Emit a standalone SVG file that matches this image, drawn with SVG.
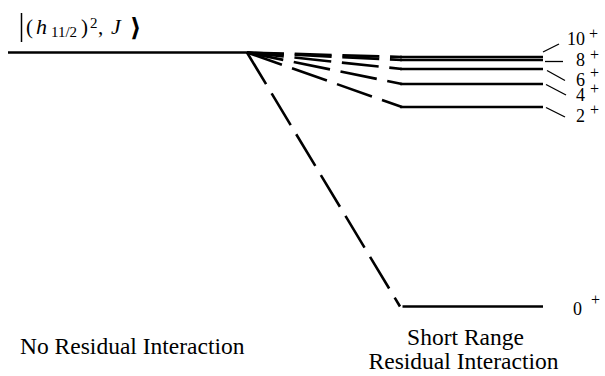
<svg xmlns="http://www.w3.org/2000/svg" width="605" height="376" viewBox="0 0 605 376" font-family="'Liberation Serif', 'Times New Roman', Times, 'DejaVu Serif', serif">
<style>
text{font-family:'Liberation Serif','Times New Roman',Times,'DejaVu Serif',serif;fill:#000}
.lvl{stroke:#000;stroke-width:2.6;fill:none}
.dash{stroke:#000;stroke-width:2.6;fill:none;stroke-dasharray:37 10.7}
.tick{stroke:#000;stroke-width:1.3;fill:none}
.lab{font-size:18px}
.sup{font-size:16px}
.cap{font-size:23.5px}
</style>
<rect width="605" height="376" fill="#fff"/>
<g id="ket">
<line x1="21.5" y1="13" x2="21.5" y2="42" stroke="#000" stroke-width="1.5"/>
<text font-size="21" y="33.5"><tspan x="26">(</tspan><tspan x="36" font-style="italic" font-size="22">h</tspan><tspan x="51" y="37" font-size="15">11/2</tspan><tspan x="81" y="33.5">)</tspan><tspan x="90" y="28" font-size="15">2</tspan><tspan x="98" y="33.5">,</tspan><tspan x="111" font-style="italic" font-size="22">J</tspan><tspan x="130" y="35.5" font-size="25" font-weight="bold">⟩</tspan></text>
</g>
<g id="unperturbed">
<line class="lvl" x1="8" y1="52.5" x2="247" y2="52.5"/>
</g>
<g id="connectors">
<line class="dash" x1="247" y1="52.5" x2="402" y2="57"/>
<line class="dash" x1="247" y1="52.5" x2="402" y2="60"/>
<line class="dash" x1="247" y1="52.5" x2="402" y2="69"/>
<line class="dash" x1="247" y1="52.5" x2="402" y2="84"/>
<line class="dash" x1="247" y1="52.5" x2="402" y2="107"/>
<line class="dash" x1="247" y1="52.5" x2="400" y2="306.5"/>
</g>
<g id="level-10">
<line class="lvl" x1="400" y1="57" x2="543" y2="57"/>
<line class="tick" x1="543" y1="52" x2="559" y2="44"/>
<text class="lab" x="585" y="45" text-anchor="end">10</text>
<text class="sup" x="589" y="39">+</text>
</g>
<g id="level-8">
<line class="lvl" x1="400" y1="60" x2="543" y2="60"/>
<line class="tick" x1="545" y1="61.5" x2="563" y2="61.5"/>
<text class="lab" x="585" y="65.5" text-anchor="end">8</text>
<text class="sup" x="590" y="60">+</text>
</g>
<g id="level-6">
<line class="lvl" x1="400" y1="69" x2="543" y2="69"/>
<line class="tick" x1="547" y1="70.5" x2="565" y2="80.5"/>
<text class="lab" x="585" y="86" text-anchor="end">6</text>
<text class="sup" x="590" y="78">+</text>
</g>
<g id="level-4">
<line class="lvl" x1="400" y1="84" x2="543" y2="84"/>
<line class="tick" x1="546" y1="84.5" x2="566" y2="95"/>
<text class="lab" x="585" y="101" text-anchor="end">4</text>
<text class="sup" x="590" y="94">+</text>
</g>
<g id="level-2">
<line class="lvl" x1="400" y1="107" x2="543" y2="107"/>
<line class="tick" x1="546" y1="107.5" x2="565" y2="117"/>
<text class="lab" x="585" y="122" text-anchor="end">2</text>
<text class="sup" x="590" y="115">+</text>
</g>
<g id="level-0">
<line class="lvl" x1="402.5" y1="306.5" x2="543" y2="306.5"/>
<text class="lab" x="573" y="315">0</text>
<text class="sup" x="591" y="305">+</text>
</g>
<g id="captions">
<text class="cap" x="20" y="354">No Residual Interaction</text>
<text class="cap" x="465.5" y="345" text-anchor="middle">Short Range</text>
<text class="cap" x="463.5" y="369" text-anchor="middle">Residual Interaction</text>
</g>
</svg>
